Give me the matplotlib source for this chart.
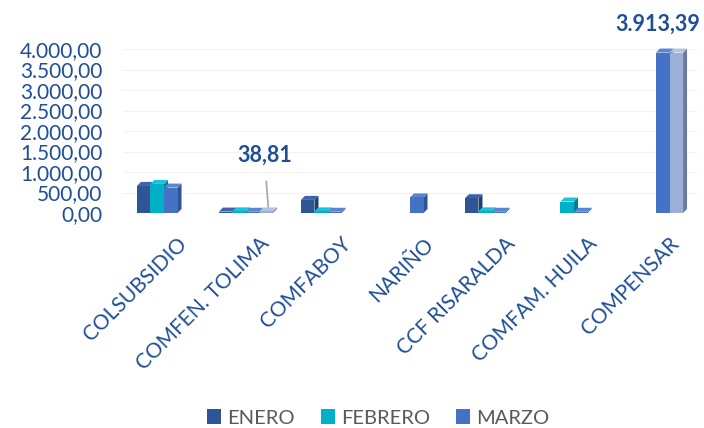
import matplotlib
matplotlib.use("Agg")
import matplotlib.pyplot as plt
from matplotlib.patches import Polygon, Rectangle, Patch
from matplotlib.ticker import FuncFormatter, MultipleLocator
import matplotlib.transforms as mtransforms
import numpy as np

categories = ["COLSUBSIDIO", "COMFEN. TOLIMA", "COMFABOY", "NARIÑO",
              "CCF RISARALDA", "COMFAM. HUILA", "COMPENSAR"]
enero   = [660, 35, 320, 0, 360, 0, 0]
febrero = [710, 40, 40, 0, 40, 280, 0]
marzo   = [620, 30, 30, 380, 30, 30, 3913.39]
extra   = [0, 38.81, 0, 0, 0, 0, 3913.39]   # series without legend entry
series_names = ["ENERO", "FEBRERO", "MARZO"]

front_cols = ["#2F5597", "#00AFC8", "#4472C4", "#9DAFD9"]
side_cols  = ["#213E70", "#007E91", "#2F5597", "#6E7A99"]
top_cols   = ["#3D64A8", "#1FC1D8", "#5A85CF", "#B5C3E3"]

label_col = "#1F4E96"
plt.rcParams['font.family'] = ['Lato', 'DejaVu Sans']

W, H = 704, 428
fig = plt.figure(figsize=(W / 100, H / 100), dpi=100)
ax_l, ax_r, ax_b, ax_t = 123, 697, 213, 49
ax = fig.add_axes([ax_l / W, 1 - ax_b / H, (ax_r - ax_l) / W, (ax_b - ax_t) / H])
xmin, xmax, ymin, ymax = -0.5, 6.5, 0, 4000
ax.set_xlim(xmin, xmax)
ax.set_ylim(ymin, ymax)

px_x = (xmax - xmin) / (ax_r - ax_l)
px_y = (ymax - ymin) / (ax_b - ax_t)
dx, dy = 4 * px_x, 4 * px_y

w = 0.165
all_series = [enero, febrero, marzo, extra]
x = np.arange(len(categories))

ax.yaxis.set_major_locator(MultipleLocator(500))
ax.grid(axis='y', color='#F2F2F2', linewidth=0.8, zorder=0)

z = 2
for i in range(len(categories)):
    for s, vals in enumerate(all_series):
        h = vals[i]
        if h <= 0:
            continue
        xl = x[i] - 2 * w + s * w
        side = Polygon([(xl + w, 0), (xl + w + dx, dy), (xl + w + dx, h + dy), (xl + w, h)],
                       closed=True, facecolor=side_cols[s], edgecolor='none', zorder=z)
        top = Polygon([(xl, h), (xl + dx, h + dy), (xl + w + dx, h + dy), (xl + w, h)],
                      closed=True, facecolor=top_cols[s], edgecolor='none', zorder=z)
        front = Rectangle((xl, 0), w, h, facecolor=front_cols[s], edgecolor='none', zorder=z + 0.5)
        ax.add_patch(side)
        ax.add_patch(top)
        ax.add_patch(front)
        for p in (side, top, front):
            p.set_clip_on(False)
        z += 1

def fmt(v, pos=None):
    s = f"{v:,.2f}"
    return s.replace(",", "X").replace(".", ",").replace("X", ".")

ax.yaxis.set_major_formatter(FuncFormatter(fmt))
ax.tick_params(axis='y', length=0, labelsize=15, labelcolor=label_col, pad=15)
ax.tick_params(axis='x', length=0, labelsize=15, labelcolor=label_col)
ax.set_xticks(x)
ax.set_xticklabels(categories, rotation=45, ha='right', rotation_mode='anchor', va='center')
off = mtransforms.ScaledTranslation(20 / 100, -23 / 100, fig.dpi_scale_trans)
for lab in ax.get_xticklabels():
    lab.set_transform(lab.get_transform() + off)

for sp in ax.spines.values():
    sp.set_visible(False)

# data labels
i1 = 1
xc = x[i1] - 2 * w + 3 * w + w / 2
ax.annotate(fmt(extra[i1]), xy=(xc + dx / 2, extra[i1] + dy), xytext=(-4, 52),
            textcoords='offset pixels', ha='center', va='center', fontsize=15.5,
            fontweight='bold', color=label_col,
            arrowprops=dict(arrowstyle='-', color='#A6A6A6', lw=1.2, shrinkA=9, shrinkB=0))
i6 = 6
xc6 = x[i6] - 2 * w + 2 * w + w / 2
ax.annotate(fmt(marzo[i6]), xy=(xc6, marzo[i6]), xytext=(-5, 28),
            textcoords='offset pixels', ha='center', va='center', fontsize=15.5,
            fontweight='bold', color=label_col)

handles = [Patch(facecolor=front_cols[k], edgecolor='none') for k in range(3)]
leg = fig.legend(handles, series_names, loc='center', bbox_to_anchor=(378 / W, 1 - 418 / H),
                 ncol=3, frameon=False, fontsize=14.5, handlelength=0.7, handleheight=0.7,
                 handletextpad=0.3, columnspacing=1.3)
for t in leg.get_texts():
    t.set_color('#595959')

fig.savefig("out.png", dpi=100)
